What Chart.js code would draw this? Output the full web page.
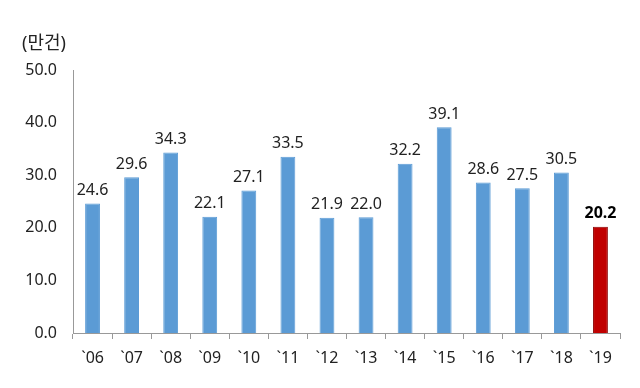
<!DOCTYPE html>
<html>
<head>
<meta charset="utf-8">
<script src="https://cdn.jsdelivr.net/npm/chart.js@4"></script>
<style>
  html, body { margin: 0; padding: 0; background: #fff; }
  #wrap { width: 640px; height: 388px; }
</style>
</head>
<body>
<div id="wrap"><canvas id="chart" width="640" height="388"></canvas></div>
<script>
var years = ['`06', '`07', '`08', '`09', '`10', '`11', '`12', '`13', '`14', '`15', '`16', '`17', '`18', '`19'];
var counts = [24.6, 29.6, 34.3, 22.1, 27.1, 33.5, 21.9, 22.0, 32.2, 39.1, 28.6, 27.5, 30.5, 20.2];
var unitLabel = '(만건)';
var yMin = 0, yMax = 50, yStep = 10;

var FONT = '"Noto Sans", "Noto Sans CJK KR", sans-serif';
var last = counts.length - 1;

var barColors = counts.map((v, i) => i === last ? '#C00000' : '#5B9BD5');
var borderColors = counts.map((v, i) => i === last ? '#8B0000' : '#5B9BD5');

// value labels over the bars + unit text top left
var labelPlugin = {
    id: 'labels',
    afterDatasetsDraw: function (chart) {
        var ctx = chart.ctx;
        var meta = chart.getDatasetMeta(0);
        ctx.save();
        ctx.textAlign = 'center';
        ctx.textBaseline = 'bottom';
        meta.data.forEach(function (bar, i) {
            ctx.font = (i === last ? 'bold ' : '') + '16px ' + FONT;
            ctx.fillStyle = i === last ? '#000' : '#222';
            ctx.fillText(counts[i].toFixed(1), bar.x, bar.y - 5);
        });
        ctx.font = '18px ' + FONT;
        ctx.fillStyle = '#222';
        ctx.textAlign = 'left';
        ctx.textBaseline = 'middle';
        ctx.fillText(unitLabel, 22, 44);
        ctx.restore();
    }
};

new Chart(document.getElementById('chart'), {
    type: 'bar',
    data: {
        labels: years,
        datasets: [{
            data: counts,
            backgroundColor: barColors,
            borderColor: borderColors,
            borderWidth: 1,
            barPercentage: 0.38,
            categoryPercentage: 1
        }]
    },
    options: {
        responsive: false,
        animation: false,
        layout: { padding: { left: 0, right: 20, top: 70, bottom: 0 } },
        scales: {
            x: {
                afterFit: function (s) { s.height = 55; },
                grid: {
                    offset: true,
                    drawOnChartArea: false,
                    tickLength: 6,
                    color: '#999'
                },
                border: { display: true, color: '#999' },
                ticks: {
                    color: '#222',
                    font: { family: FONT, size: 16 },
                    padding: 10
                }
            },
            y: {
                min: yMin,
                max: yMax,
                afterFit: function (s) { s.width = 73; },
                grid: { display: false },
                border: { display: true, color: '#999' },
                ticks: {
                    stepSize: yStep,
                    color: '#222',
                    font: { family: FONT, size: 16 },
                    padding: 8,
                    callback: function (value) { return value.toFixed(1); }
                }
            }
        },
        plugins: {
            legend: { display: false },
            tooltip: { enabled: false }
        }
    },
    plugins: [labelPlugin]
});
</script>
</body>
</html>
